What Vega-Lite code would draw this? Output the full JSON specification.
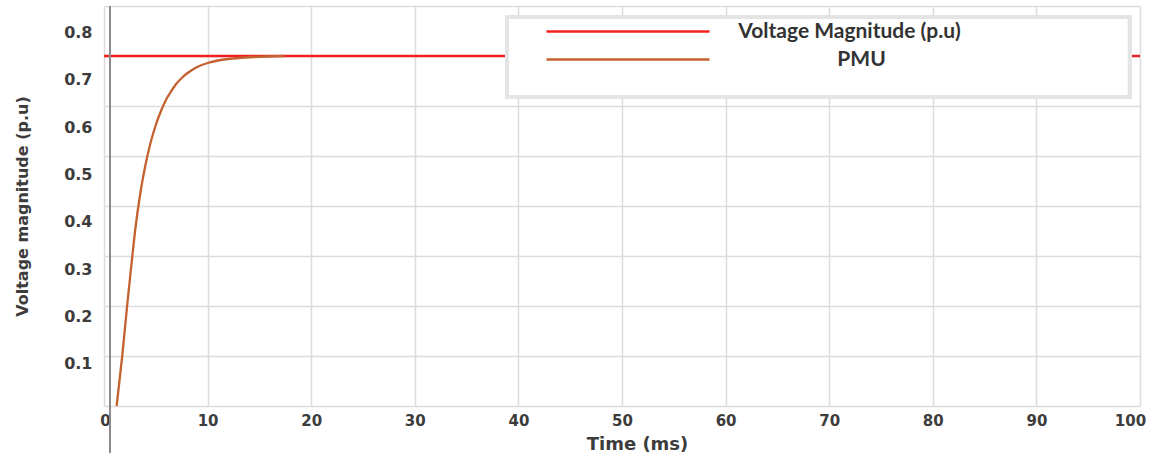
{
  "$schema": "https://vega.github.io/schema/vega-lite/v6.json",
  "width": 1036,
  "height": 400,
  "autosize": "none",
  "padding": {"left": 104, "top": 6, "right": 9, "bottom": 51},
  "background": "white",
  "config": {"view": {"stroke": null}, "font": "DejaVu Sans"},
  "data": {
    "values": [
      {"series": "Voltage Magnitude (p.u)", "time": 0, "voltage": 0.7},
      {"series": "Voltage Magnitude (p.u)", "time": 100, "voltage": 0.7},
      {"series": "PMU", "time": 1.22, "voltage": 0},
      {"series": "PMU", "time": 1.76, "voltage": 0.1},
      {"series": "PMU", "time": 2.28, "voltage": 0.21},
      {"series": "PMU", "time": 2.76, "voltage": 0.305},
      {"series": "PMU", "time": 3.0, "voltage": 0.35},
      {"series": "PMU", "time": 3.5, "voltage": 0.425},
      {"series": "PMU", "time": 4.0, "voltage": 0.482},
      {"series": "PMU", "time": 4.5, "voltage": 0.527},
      {"series": "PMU", "time": 5.0, "voltage": 0.562},
      {"series": "PMU", "time": 5.5, "voltage": 0.59},
      {"series": "PMU", "time": 6.0, "voltage": 0.613},
      {"series": "PMU", "time": 6.5, "voltage": 0.63},
      {"series": "PMU", "time": 7.0, "voltage": 0.645},
      {"series": "PMU", "time": 7.5, "voltage": 0.656},
      {"series": "PMU", "time": 8.0, "voltage": 0.665},
      {"series": "PMU", "time": 8.5, "voltage": 0.672},
      {"series": "PMU", "time": 9.0, "voltage": 0.678},
      {"series": "PMU", "time": 10.0, "voltage": 0.686},
      {"series": "PMU", "time": 11.0, "voltage": 0.691},
      {"series": "PMU", "time": 12.0, "voltage": 0.694},
      {"series": "PMU", "time": 13.0, "voltage": 0.696},
      {"series": "PMU", "time": 14.5, "voltage": 0.698},
      {"series": "PMU", "time": 17.4, "voltage": 0.7}
    ]
  },
  "layer": [
    {
      "mark": {"type": "line", "strokeWidth": 2.3, "interpolate": "monotone"},
      "encoding": {
        "x": {
          "field": "time",
          "type": "quantitative",
          "title": "Time (ms)",
          "scale": {"domain": [0, 100], "nice": false},
          "axis": {
            "values": [0, 10, 20, 30, 40, 50, 60, 70, 80, 90, 100],
            "format": "d",
            "labelFlush": false,
            "labelOffset": {"expr": "datum.value == 100 ? -10 : (datum.value == 0 ? 1 : 0)"},
            "labelFont": "DejaVu Sans",
            "labelFontWeight": "bold",
            "labelFontSize": 15,
            "labelColor": "#3c3c3c",
            "labelPadding": 7,
            "ticks": false,
            "domain": false,
            "grid": true,
            "gridColor": "#dcdcdc",
            "gridWidth": 1.5,
            "titleFont": "DejaVu Sans",
            "titleFontWeight": "bold",
            "titleFontSize": 18,
            "titleColor": "#3c3c3c",
            "titleX": 533,
            "titleY": 29
          }
        },
        "y": {
          "field": "voltage",
          "type": "quantitative",
          "title": "Voltage magnitude  (p.u)",
          "scale": {"domain": [0, 0.8], "nice": false},
          "axis": {
            "values": [0, 0.1, 0.2, 0.3, 0.4, 0.5, 0.6, 0.7, 0.8],
            "labelExpr": "datum.value == 0 ? '' : format(datum.value, '.1f')",
            "labelOffset": {"expr": "5 + 27 * datum.value"},
            "labelFont": "DejaVu Sans",
            "labelFontWeight": "bold",
            "labelFontSize": 16,
            "labelColor": "#3c3c3c",
            "labelPadding": 12,
            "labelOverlap": false,
            "ticks": false,
            "domain": false,
            "grid": true,
            "gridColor": "#dcdcdc",
            "gridWidth": 1.5,
            "titleFont": "DejaVu Sans",
            "titleFontWeight": "bold",
            "titleFontSize": 16,
            "titleColor": "#3c3c3c",
            "titlePadding": 33
          }
        },
        "color": {
          "field": "series",
          "type": "nominal",
          "scale": {
            "domain": ["Voltage Magnitude (p.u)", "PMU"],
            "range": ["#f02020", "#c4612f"]
          },
          "legend": {
            "orient": "none",
            "legendX": 441,
            "legendY": 14,
            "title": null,
            "padding": 0,
            "symbolType": "M-8.15,0H8.15",
            "symbolSize": 400,
            "symbolStrokeWidth": 2.5,
            "symbolOffset": 71.5,
            "labelOffset": {"expr": "datum.label == 'PMU' ? 222 : 210"},
            "labelAlign": "center",
            "labelFont": "Lato",
            "labelFontWeight": "bold",
            "labelFontSize": 21,
            "labelColor": "#333333",
            "labelLimit": 400,
            "rowPadding": 6
          }
        }
      }
    },
    {
      "mark": {"type": "rect", "fill": "white", "stroke": "#e4e4e4", "strokeWidth": 4},
      "encoding": {
        "x": {"datum": 38.9},
        "x2": {"datum": 99.0},
        "y": {"datum": 0.778},
        "y2": {"datum": 0.618}
      }
    },
    {
      "mark": {"type": "rule", "color": "#8c8c8c", "strokeWidth": 1.5},
      "encoding": {
        "x": {"datum": 0.6},
        "y": {"datum": 0.8},
        "y2": {"datum": -0.094}
      }
    }
  ]
}
